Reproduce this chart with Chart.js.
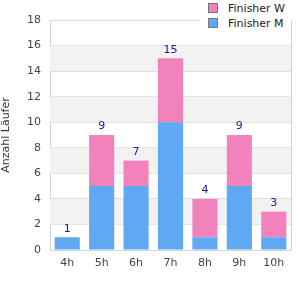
<!DOCTYPE html>
<html>
<head>
<meta charset="utf-8">
<script src="https://cdn.jsdelivr.net/npm/chart.js@4"></script>
<style>
  html, body { margin: 0; padding: 0; background: #fff; }
  #wrap { position: relative; width: 300px; height: 300px; }
  #legend { position: absolute; top: 0; right: 9px; background: #fff; padding: 1px 6px 2px 8px;
            font: 11px "DejaVu Sans", sans-serif; color: #222; }
  #legend div { height: 15px; line-height: 15px; white-space: nowrap; }
  #legend span { display: inline-block; width: 8px; height: 8px; border: 1px solid #777;
                 vertical-align: -1px; margin-right: 10px; }
</style>
</head>
<body>
<div id="wrap">
  <canvas id="chart" width="300" height="300"></canvas>
  <div id="legend"></div>
</div>
<script>
const categories = ['4h', '5h', '6h', '7h', '8h', '9h', '10h'];
const finisherM = [1, 5, 5, 10, 1, 5, 1];
const finisherW = [0, 4, 2, 5, 3, 4, 2];
const yTicks = [0, 2, 4, 6, 8, 10, 12, 14, 16, 18];

const colorM = '#5fa8f2';
const colorW = '#f282bb';

// grey bands + right border behind the bars
const bandsPlugin = {
    id: 'bands',
    beforeDatasetsDraw(chart) {
        const { ctx, chartArea: a, scales: { y } } = chart;
        ctx.save();
        ctx.fillStyle = '#f2f2f2';
        for (let v = 2; v < 18; v += 4) {
            const top = y.getPixelForValue(v + 2);
            const bot = y.getPixelForValue(v);
            ctx.fillRect(a.left, top, a.right - a.left, bot - top);
        }
        ctx.restore();
    },
    afterDatasetsDraw(chart) {
        const { ctx, chartArea: a } = chart;
        ctx.save();
        ctx.strokeStyle = '#d4d4d4';
        ctx.lineWidth = 1;
        ctx.beginPath();
        ctx.moveTo(a.right + 0.5, a.top);
        ctx.lineTo(a.right + 0.5, a.bottom);
        ctx.stroke();
        ctx.restore();
    }
};

// totals above each stack
const totalsPlugin = {
    id: 'totals',
    afterDatasetsDraw(chart) {
        const { ctx, scales: { x, y } } = chart;
        ctx.save();
        ctx.fillStyle = '#1a1a8c';
        ctx.font = '11px "DejaVu Sans", sans-serif';
        ctx.textAlign = 'center';
        ctx.textBaseline = 'bottom';
        categories.forEach((c, i) => {
            const total = finisherM[i] + finisherW[i];
            ctx.fillText(String(total), x.getPixelForValue(i), y.getPixelForValue(total) - 3);
        });
        ctx.restore();
    }
};

const chart = new Chart(document.getElementById('chart'), {
    type: 'bar',
    data: {
        labels: categories,
        datasets: [
            { label: 'Finisher M', data: finisherM, backgroundColor: colorM, stack: 's' },
            { label: 'Finisher W', data: finisherW, backgroundColor: colorW, stack: 's' }
        ]
    },
    options: {
        responsive: false,
        animation: false,
        layout: { padding: { top: 20, right: 9, bottom: 22, left: 0 } },
        plugins: { legend: { display: false }, tooltip: { enabled: false } },
        datasets: { bar: { categoryPercentage: 1, barPercentage: 0.73 } },
        scales: {
            x: {
                stacked: true,
                grid: { display: false, drawTicks: false },
                border: { color: '#d4d4d4' },
                ticks: { color: '#444', font: { family: 'DejaVu Sans', size: 11 }, padding: 7 },
                afterFit: s => { s.height = 28; }
            },
            y: {
                stacked: true,
                min: 0, max: 18,
                afterBuildTicks: s => { s.ticks = yTicks.map(v => ({ value: v })); },
                grid: { color: '#dcdcdc', drawTicks: false },
                border: { color: '#d4d4d4' },
                ticks: { color: '#444', font: { family: 'DejaVu Sans', size: 11 }, padding: 9 },
                title: { display: true, text: 'Anzahl Läufer', color: '#333',
                         font: { family: 'DejaVu Sans', size: 11 }, padding: 0 },
                afterFit: s => { s.width = 50; }
            }
        }
    },
    plugins: [bandsPlugin, totalsPlugin]
});

// legend: W on top, M below (reverse of stacking order)
document.getElementById('legend').innerHTML = chart.data.datasets.slice().reverse()
    .map(ds => `<div><span style="background:${ds.backgroundColor}"></span>${ds.label}</div>`)
    .join('');
</script>
</body>
</html>
